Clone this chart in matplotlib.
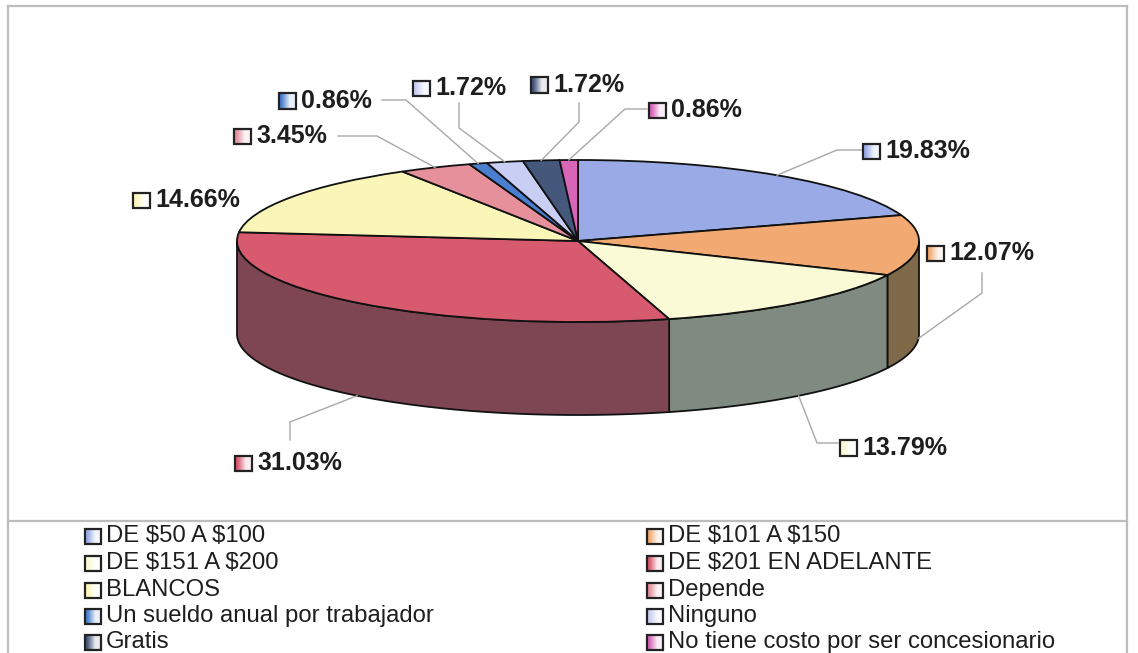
import numpy as np
import matplotlib
matplotlib.use("Agg")
import matplotlib.pyplot as plt
from matplotlib.patches import Polygon, Rectangle
from matplotlib.colors import to_rgb

# ---------------- data ----------------
categories = ["DE $50 A $100", "DE $101 A $150", "DE $151 A $200", "DE $201 EN ADELANTE",
              "BLANCOS", "Depende", "Un sueldo anual por trabajador", "Ninguno", "Gratis",
              "No tiene costo por ser concesionario"]
percentages = [19.83, 12.07, 13.79, 31.03, 14.66, 3.45, 0.86, 1.72, 1.72, 0.86]
pct_labels = ["19.83%", "12.07%", "13.79%", "31.03%", "14.66%", "3.45%", "0.86%", "1.72%", "1.72%", "0.86%"]

# ---------------- style ----------------
top_colors = ['#9AAAE6', '#F2AA72', '#FAFAD6', '#D85A6E', '#FAF6B8', '#E6909C',
              '#4A7FD0', '#C8CEF4', '#45587C', '#D865B8']
side_colors = ['#4D5573', '#7E6A48', '#7F8A80', '#7E4652', '#7D7B5C', '#734850',
               '#254068', '#64677A', '#222C3E', '#6C325C']

W, H = 1138, 653
CX, CY, RX, RY, DEPTH = 578, 241, 341, 81, 93
D = DEPTH / RY

fig = plt.figure(figsize=(W / 100, H / 100), dpi=100)
fig.patch.set_facecolor('white')
ax = fig.add_axes([0, 0, 1, 1])


def P(x, y):
    """pixel (from top-left) -> data coords"""
    return ((x - CX) / RX, (CY - y) / RY)


# top face through the library's pie
wedges, _ = ax.pie(percentages, colors=top_colors, startangle=90, counterclock=False,
                   radius=1, center=(0, 0), frame=False,
                   wedgeprops=dict(edgecolor='#111111', linewidth=1.3, zorder=3))

# side walls computed from the same fractions
vals = np.array(percentages, dtype=float)
cum = np.concatenate([[0], np.cumsum(vals) / vals.sum()])
mids = []
for i in range(len(vals)):
    a_start = 90 - 360 * cum[i]
    a_end = 90 - 360 * cum[i + 1]
    mids.append((a_start + a_end) / 2)
    lo, hi = max(a_end, -180), min(a_start, 0)
    if lo < hi:
        t = np.radians(np.linspace(hi, lo, 80))
        top = np.column_stack([np.cos(t), np.sin(t)])
        bot = np.column_stack([np.cos(t), np.sin(t) - D])[::-1]
        ax.add_patch(Polygon(np.vstack([top, bot]), closed=True, facecolor=side_colors[i],
                             edgecolor='#111111', linewidth=1.3, zorder=1))


def swatch(xl, yc, color, w=17, h=15):
    x0, y0 = P(xl, yc + h / 2)
    x1, y1 = P(xl + w, yc - h / 2)
    u = np.linspace(0, 1, 40)
    s = np.clip((u - 0.15) / 0.5, 0, 1) * 0.88
    c = np.array(to_rgb(color))
    grad = (c[None, :] * (1 - s[:, None]) + s[:, None]).reshape(1, -1, 3)
    ax.imshow(grad, extent=(x0, x1, y0, y1), aspect='auto', interpolation='bilinear', zorder=6)
    ax.add_patch(Rectangle((x0, y0), x1 - x0, y1 - y0, fill=False, edgecolor='#222222',
                           linewidth=1.6, zorder=7))


# data labels
label_xy = [(863, 151), (927, 253), (840, 448), (235, 463), (133, 200),
            (234, 136), (279, 101), (413, 88), (531, 85), (649, 110)]
leader_elbows = [
    [(862, 150), (837, 150)],
    [(982, 273), (982, 293)],
    [(838, 443), (817, 443)],
    [(290, 440), (290, 422)],
    None,
    [(338, 136), (377, 136)],
    [(382, 100), (406, 100)],
    [(459, 103), (459, 128)],
    [(579, 103), (579, 122)],
    [(647, 109), (625, 109)],
]
text_color = '#1e1e1e'
for i, lab in enumerate(pct_labels):
    xl, yc = label_xy[i]
    swatch(xl, yc, top_colors[i])
    tx, ty = P(xl + 22, yc)
    ax.text(tx, ty, lab, ha='left', va='center', fontsize=18, fontweight='bold',
            family='Liberation Sans', color=text_color, zorder=8)
    if leader_elbows[i] is not None:
        m = np.radians(mids[i])
        ex, ey = np.cos(m), np.sin(m)
        if ey < 0:
            ey -= D
        pts = [P(*p) for p in leader_elbows[i]] + [(ex, ey)]
        xs, ys = zip(*pts)
        ax.plot(xs, ys, color='#A8A8A8', linewidth=1.0, zorder=5)

# legend (row-major, two columns)
leg_rows = [536, 563, 590, 616, 642]
leg_cols = [(85, 106), (647, 668)]
for i, cat in enumerate(categories):
    r, cidx = i // 2, i % 2
    sx, tx0 = leg_cols[cidx]
    yc = leg_rows[r]
    swatch(sx, yc, top_colors[i], w=16, h=15)
    tx, ty = P(tx0, yc)
    ax.text(tx, ty, cat.replace('$', r'\$'), ha='left', va='center', fontsize=17.2,
            family='Liberation Sans', color=text_color, zorder=8)

# frame and separator
bc = '#BDBDBD'
for (a, b) in [((8, 6), (1127, 6)), ((8, 6), (8, 660)), ((1127, 6), (1127, 660)),
               ((8, 521), (1127, 521))]:
    (x0, y0), (x1, y1) = P(*a), P(*b)
    ax.plot([x0, x1], [y0, y1], color=bc, linewidth=1.6, zorder=0)

ax.set_xlim((0 - CX) / RX, (W - CX) / RX)
ax.set_ylim((CY - H) / RY, CY / RY)
ax.set_aspect('auto')
ax.axis('off')

fig.savefig('out.png', dpi=100, facecolor='white')
